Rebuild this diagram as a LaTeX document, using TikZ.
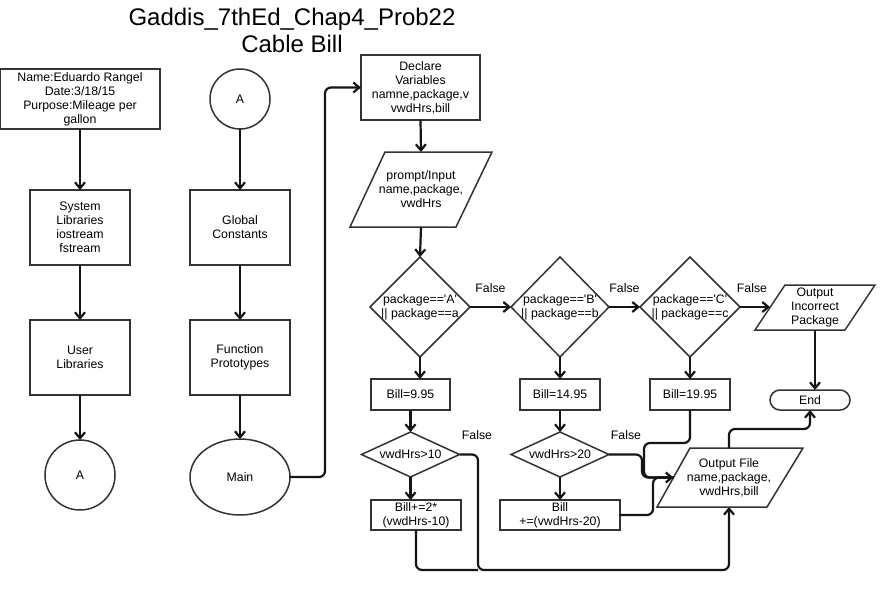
\documentclass[tikz,border=0pt]{standalone}
\usepackage{fontspec}
\setmainfont{Liberation Sans}
\usetikzlibrary{arrows.meta,shapes.geometric}
\definecolor{shp}{HTML}{333333}
\definecolor{lnk}{HTML}{151515}
\begin{document}
\begin{tikzpicture}[x=1pt,y=-1pt,
  every node/.style={font=\fontsize{12.3}{14}\selectfont, align=center, inner sep=0pt, outer sep=0pt},
  shapeline/.style={draw=shp, line width=1.5pt, line join=miter},
  boxst/.style={shapeline, rectangle},
  plain/.style={rectangle},
  conn/.style={draw=lnk, line width=2.2pt, rounded corners=6pt},
  arr/.style={conn, -{Straight Barb[length=6pt,width=10pt]}},
  lbl/.style={font=\fontsize{12.3}{14}\selectfont}
]
\fill[white] (0,0) rectangle (886,594);
\useasboundingbox (0,0) rectangle (886,594);

% title
\node[font=\fontsize{24}{27}\selectfont] (title) at (292,30) {Gaddis\_7thEd\_Chap4\_Prob22\\Cable Bill};

% left column
\node[boxst, minimum width=160pt, minimum height=60pt] (nm) at (80,99) {Name:Eduardo Rangel\\Date:3/18/15\\Purpose:Mileage per\\gallon};
\node[boxst, minimum width=100pt, minimum height=75pt] (sys) at (80,227.5) {System\\Libraries\\iostream\\fstream};
\node[boxst, minimum width=100pt, minimum height=75pt] (usr) at (80,357.5) {User\\Libraries};
\node[shapeline, circle, minimum size=70pt] (ca1) at (80,475) {A};

% second column
\node[shapeline, circle, minimum size=60pt] (ca2) at (240,99) {A};
\node[boxst, minimum width=100pt, minimum height=75pt] (gc) at (240,227.5) {Global\\Constants};
\node[boxst, minimum width=100pt, minimum height=75pt] (fp) at (240,357.5) {Function\\Prototypes};
\node[shapeline, ellipse, minimum width=100pt, minimum height=76pt] (main) at (240,477) {Main};

% main flow
\node[boxst, minimum width=119pt, minimum height=65pt] (decl) at (420.5,87.5) {Declare\\Variables\\namne,package,v\\vwdHrs,bill};
\node[plain, minimum width=100pt, minimum height=75pt] (inp) at (421,189.5) {prompt/Input\\name,package,\\vwdHrs};
\draw[shapeline] (385,152) -- (492,152) -- (456,227) -- (350,227) -- cycle;

\node[plain, minimum width=100pt, minimum height=100pt] (dA) at (420,307) {package==\textquotesingle A\textquotesingle\\|| package==a};
\node[plain, minimum width=98pt, minimum height=100pt] (dB) at (560,307) {package==\textquotesingle B\textquotesingle\\|| package==b};
\node[plain, minimum width=100pt, minimum height=100pt] (dC) at (690,307) {package==\textquotesingle C\textquotesingle\\|| package==c};
\foreach \d in {dA,dB,dC}{\draw[shapeline] (\d.north) -- (\d.east) -- (\d.south) -- (\d.west) -- cycle;}

\node[plain, minimum width=90pt, minimum height=45pt] (inc) at (815,307.5) {Output\\Incorrect\\Package};
\draw[shapeline] (785,285) -- (875,285) -- (845,330) -- (755,330) -- cycle;
\node[shapeline, rectangle, rounded corners=10pt, minimum width=80pt, minimum height=20pt] (end) at (810,400) {End};

\node[boxst, minimum width=79pt, minimum height=31pt] (b1) at (410.5,394.5) {Bill=9.95};
\node[boxst, minimum width=80pt, minimum height=31pt] (b2) at (560,394.5) {Bill=14.95};
\node[boxst, minimum width=80pt, minimum height=31pt] (b3) at (690,394.5) {Bill=19.95};

\node[plain, minimum width=98pt, minimum height=45pt] (d10) at (410.5,454.5) {vwdHrs>10};
\node[plain, minimum width=98pt, minimum height=45pt] (d20) at (560,454.5) {vwdHrs>20};
\foreach \d in {d10,d20}{\draw[shapeline] (\d.north) -- (\d.east) -- (\d.south) -- (\d.west) -- cycle;}

\node[boxst, minimum width=90pt, minimum height=30pt] (b4) at (416,515) {Bill+=2*\\(vwdHrs-10)};
\node[boxst, minimum width=120pt, minimum height=30pt] (b5) at (560,515) {Bill\\+=(vwdHrs-20)};

\node[plain, minimum width=100pt, minimum height=59pt] (outf) at (729,477.5) {Output File\\name,package,\\vwdHrs,bill};
\draw[shapeline] (690,448) -- (803,448) -- (767,507) -- (657,507) -- cycle;

% connectors
\draw[arr] (nm) -- (sys);
\draw[arr] (sys) -- (usr);
\draw[arr] (usr) -- (ca1);
\draw[arr] (ca2) -- (gc);
\draw[arr] (gc) -- (fp);
\draw[arr] (fp) -- (main);
\draw[arr] (main.east) -- (325,477) -- (325,87.5) -- (decl.west);
\draw[arr] (decl.south) -- (inp.north);
\draw[arr] (inp.south) -- (dA.north);
\draw[arr] (dA.east) -- (dB.west) node[lbl, midway, above=14pt] (fA) {False};
\draw[arr] (dB.east) -- (dC.west) node[lbl, midway, above=14pt] (fB) {False};
\coordinate (incin) at (770,307);
\draw[arr] (dC.east) -- (incin) node[lbl, pos=0.4, above=14pt] (fC) {False};
\draw[arr] (dA.south) -- (dA.south |- b1.north);
\draw[arr] (dB.south) -- (b2.north);
\draw[arr] (dC.south) -- (b3.north);
\draw[arr] (b1.south) -- (d10.north);
\draw[arr] (b2.south) -- (d20.north);
\draw[arr] (d10.south) -- (d10.south |- b4.north);
\draw[arr] (d20.south) -- (b5.north);
\node[lbl] (f10) at (477,435) {False};
\node[lbl] (f20) at (626,435) {False};

\coordinate (oin) at (673.5,477.5);
\draw[conn] (b3.south) -- (690,443) -- (644,443) -- (644,477.5) -- (oin);
\draw[conn] (b5.east) -- (653,515) -- (653,477.5) -- (oin);
\draw[arr] (d20.east) -- (642,454.5) -- (642,477.5) -- (oin);

\draw[conn] (b4.south) -- (416,570) -- (478,570);
\draw[arr] (d10.east) -- (478,454.5) -- (478,570) -- (729,570) -- (outf.south);

\draw[arr] (outf.north) -- (729,429) -- (810,429) -- (end.south);
\draw[arr] (inc.south) -- (inc.south |- end.north);
\end{tikzpicture}
\end{document}
